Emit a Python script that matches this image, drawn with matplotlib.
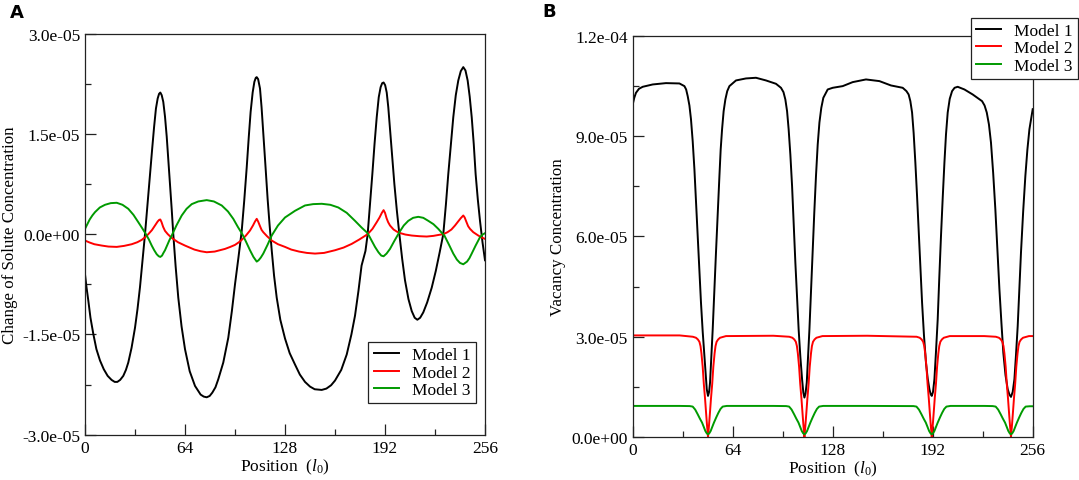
import numpy as np
import matplotlib
matplotlib.use("Agg")
import matplotlib.pyplot as plt
from matplotlib.ticker import FixedLocator, FuncFormatter

plt.rcParams['font.family'] = ['Liberation Serif', 'DejaVu Serif']
plt.rcParams['mathtext.fontset'] = 'custom'
plt.rcParams['mathtext.rm'] = 'Liberation Serif'
plt.rcParams['mathtext.it'] = 'Liberation Serif:italic'

SCALE = 1e-5

# ---- panel A : change of solute concentration (values in 1e-5) ----
a1_x = [0, 1, 2.1, 3.5, 5.3, 7.3, 9.6, 12, 14.5, 17, 19, 20.7, 22.5, 24.5, 26.2, 27.7, 29.8, 32,
        33.6, 35.2, 36.8, 38.4, 40, 41.6, 43, 44.2, 45.4, 46.5, 47.4, 48.2, 49.1, 50.1, 51.2,
        52.3, 53.3, 54.4, 55.5, 56.5, 58, 59.7, 61.8, 64, 67, 70.4, 74, 76, 77.9, 79.8, 81.5,
        83.5, 85.3, 88.5, 91.7, 94, 96, 98.2, 100.3, 101.9, 103.5, 104.8, 106, 107.3, 108.4,
        109.3, 109.9, 110.8, 112, 113, 114.1, 115.5, 116.9, 118.2, 119.5, 121, 122.7, 125, 128,
        131, 134.4, 137.5, 140.8, 144, 147, 151.5, 154.5, 157.5, 160, 164, 167.5, 170.5, 172.8,
        175, 177, 179.5, 180.9, 182.4, 183.9, 185.3, 186.7, 188, 189.2, 190.2, 191.1, 192.1,
        193.1, 194.1, 195.2, 196.6, 198, 199.6, 201.2, 203, 204.8, 207, 209.1, 211, 212.7,
        214.5, 216.5, 219, 221.9, 224.5, 227, 229.3, 231, 232.5, 234.2, 235.7, 237.3, 238.9,
        240.5, 242.1, 243.5, 244.9, 246.2, 247.5, 248.8, 250, 251.4, 252.8, 254.4, 256]
a1_y = [-0.60, -0.80, -0.99, -1.25, -1.49, -1.72, -1.89, -2.02, -2.12, -2.18, -2.21, -2.21,
        -2.18, -2.12, -2.03, -1.92, -1.70, -1.40, -1.12, -0.79, -0.40, 0.0, 0.45, 0.90, 1.28,
        1.60, 1.88, 2.03, 2.10, 2.12, 2.08, 1.98, 1.76, 1.46, 1.12, 0.75, 0.37, 0.0, -0.48,
        -0.95, -1.38, -1.72, -2.05, -2.27, -2.40, -2.43, -2.44, -2.42, -2.37, -2.29, -2.17,
        -1.92, -1.55, -1.15, -0.75, -0.35, 0.05, 0.50, 1.00, 1.45, 1.83, 2.12, 2.28, 2.34, 2.35,
        2.32, 2.18, 1.90, 1.52, 1.02, 0.52, 0.12, -0.24, -0.62, -0.95, -1.28, -1.56, -1.78,
        -1.95, -2.10, -2.21, -2.28, -2.32, -2.33, -2.31, -2.26, -2.19, -2.03, -1.80, -1.50,
        -1.22, -0.85, -0.47, -0.25, 0.0, 0.45, 0.90, 1.35, 1.75, 2.05, 2.20, 2.26, 2.27, 2.23,
        2.12, 1.90, 1.58, 1.17, 0.75, 0.35, 0.0, -0.37, -0.69, -0.97, -1.15, -1.25, -1.28,
        -1.25, -1.17, -1.02, -0.80, -0.55, -0.27, 0.0, 0.45, 0.90, 1.35, 1.75, 2.08, 2.30, 2.44,
        2.50, 2.45, 2.30, 2.06, 1.75, 1.35, 0.90, 0.52, 0.20, -0.12, -0.39]

a2_x = [0, 3, 6, 10.7, 15, 20.3, 25, 29.9, 33.5, 36.3, 38.5, 40.5, 42.8, 44.8, 46.5, 47.5, 48.2,
        49, 50, 51.2, 53, 55.5, 59.5, 64, 70, 74, 77.9, 83, 89.6, 93, 96, 98.5, 100.3, 103, 105.6,
        107.5, 108.8, 109.9, 110.8, 112, 113, 114.1, 116.5, 119.5, 123.5, 128, 132, 137, 142,
        147.2, 153, 160, 165.5, 170.7, 175.5, 180.9, 184, 186.7, 188.5, 190, 191.1, 192, 193,
        194, 195.2, 197.5, 199.5, 201.2, 205, 209.1, 214, 218.7, 223, 226.5, 229.3, 232, 234.5,
        236.8, 238.8, 240.5, 242.1, 243, 244, 245.2, 246.4, 248.5, 251.7, 254, 256]
a2_y = [-0.095, -0.125, -0.15, -0.17, -0.185, -0.19, -0.175, -0.15, -0.12, -0.085, -0.045, 0.0,
        0.06, 0.13, 0.19, 0.215, 0.22, 0.18, 0.11, 0.05, 0.0, -0.055, -0.12, -0.17, -0.23,
        -0.255, -0.27, -0.26, -0.22, -0.19, -0.16, -0.12, -0.085, -0.02, 0.055, 0.13, 0.19,
        0.23, 0.19, 0.12, 0.065, 0.03, -0.03, -0.095, -0.15, -0.19, -0.23, -0.26, -0.28, -0.29,
        -0.28, -0.24, -0.20, -0.145, -0.08, 0.0, 0.08, 0.18, 0.25, 0.32, 0.36, 0.32, 0.24, 0.18,
        0.13, 0.07, 0.04, 0.02, -0.005, -0.02, -0.03, -0.035, -0.025, -0.01, 0.0, 0.03, 0.07,
        0.13, 0.19, 0.24, 0.28, 0.25, 0.19, 0.12, 0.08, 0.03, -0.02, -0.05, -0.07]

a3_x = [0, 1.5, 3, 4.7, 6.4, 9.5, 12.8, 16.5, 20.3, 24, 27.7, 31, 34.1, 36.6, 39, 40.9, 42.7,
        44.3, 45.9, 47.2, 48.2, 49.3, 50.2, 51.2, 52.7, 54, 55.5, 58.5, 61.9, 65, 68.3, 72.5,
        77.9, 82.5, 87.5, 91.5, 94.9, 97.8, 100.7, 103.2, 105.6, 107.8, 109.9, 111.1, 112.5,
        114.1, 116.8, 119.5, 123.5, 128, 134.4, 140.8, 146, 151.5, 157, 162.1, 167.5, 172.8, 177,
        180.9, 183.3, 185.6, 187.8, 189.6, 191.1, 193, 195.2, 198, 201.2, 204, 206.9, 210, 213.3,
        216.5, 219.7, 223, 226.1, 228, 230, 232.8, 235.7, 238, 240, 242.1, 244.5, 246, 247.5,
        250, 252.8, 254.5, 256]
a3_y = [0.08, 0.15, 0.22, 0.28, 0.33, 0.40, 0.44, 0.465, 0.47, 0.44, 0.38, 0.29, 0.18, 0.09, 0.0,
        -0.08, -0.17, -0.24, -0.30, -0.33, -0.34, -0.32, -0.28, -0.24, -0.16, -0.09, -0.02, 0.13,
        0.28, 0.38, 0.45, 0.49, 0.51, 0.49, 0.43, 0.34, 0.23, 0.11, 0.0, -0.12, -0.24, -0.34,
        -0.41, -0.39, -0.35, -0.29, -0.16, -0.02, 0.13, 0.25, 0.35, 0.43, 0.45, 0.455, 0.44,
        0.40, 0.32, 0.20, 0.10, 0.015, -0.09, -0.19, -0.27, -0.32, -0.33, -0.29, -0.22, -0.10,
        0.03, 0.13, 0.20, 0.245, 0.26, 0.245, 0.20, 0.15, 0.08, 0.03, -0.02, -0.15, -0.29, -0.38,
        -0.43, -0.45, -0.41, -0.36, -0.29, -0.17, -0.045, -0.005, 0.015]

# ---- panel B : vacancy concentration (values in 1e-5) ----
b1_x = [0, 1, 2.1, 4, 6.4, 12.8, 21.3, 29.9, 33.1, 34.2, 35.2, 36.3, 37.3, 38.4, 39.5, 40.5,
        41.6, 42.6, 43.7, 44.8, 45.9, 46.7, 47.4, 48.2, 48.9, 49.5, 50.3, 51.2, 52.2, 53.3, 54.4,
        55.5, 56.3, 57.2, 58.2, 59.3, 60.5, 61.9, 66.1, 72.5, 78.9, 85.3, 91.7, 94.9, 96.5, 97.7,
        98.8, 99.8, 100.9, 102, 103, 104.1, 105.2, 106.2, 107.3, 108.4, 109.2, 109.9, 110.6,
        111.4, 112.2, 113.1, 114.1, 115.2, 116.2, 117.3, 118.4, 119.5, 120.7, 122, 124.8, 128,
        134.4, 140.8, 149.3, 157.9, 165.3, 172.8, 175.2, 176.6, 177.7, 178.8, 179.8, 180.9, 182,
        183, 184.1, 185.2, 186.4, 187.7, 188.8, 189.9, 190.7, 191.4, 192.2, 193.1, 194.1, 195.2,
        196.2, 197.3, 198.4, 199.5, 200.5, 201.6, 202.9, 204.4, 206, 208, 212.3, 217.6, 223.6,
        225.2, 226.6, 228, 229.3, 230.7, 232.1, 233.4, 234.7, 236, 237.2, 238.6, 240, 241.1,
        242.1, 243.2, 244.3, 245.3, 246.4, 247.4, 248.5, 249.9, 251.3, 252.6, 253.9, 256]
b1_y = [9.95, 10.15, 10.30, 10.42, 10.48, 10.55, 10.59, 10.58, 10.50, 10.40, 10.20, 9.92, 9.51,
        8.85, 8.01, 7.05, 6.01, 5.00, 4.02, 3.15, 2.42, 1.85, 1.43, 1.23, 1.35, 1.63, 2.35, 3.22,
        4.35, 5.52, 6.70, 7.81, 8.60, 9.21, 9.75, 10.10, 10.35, 10.50, 10.67, 10.73, 10.75,
        10.67, 10.57, 10.45, 10.32, 10.10, 9.75, 9.21, 8.45, 7.51, 6.40, 5.22, 4.15, 3.22, 2.40,
        1.73, 1.33, 1.18, 1.30, 1.63, 2.35, 3.22, 4.35, 5.52, 6.70, 7.81, 8.75, 9.41, 9.85,
        10.15, 10.40, 10.45, 10.50, 10.62, 10.70, 10.65, 10.52, 10.45, 10.35, 10.25, 10.05, 9.71,
        9.10, 8.21, 7.20, 6.21, 5.10, 4.02, 3.05, 2.22, 1.75, 1.43, 1.28, 1.23, 1.35, 1.73, 2.55,
        3.52, 4.75, 6.01, 7.15, 8.21, 9.05, 9.71, 10.12, 10.35, 10.45, 10.48, 10.40, 10.25,
        10.05, 9.92, 9.71, 9.35, 8.81, 7.90, 6.81, 5.60, 4.42, 3.40, 2.52, 1.85, 1.43, 1.27,
        1.20, 1.35, 1.73, 2.45, 3.32, 4.40, 5.52, 6.75, 7.81, 8.60, 9.21, 9.81]

b2_x = [0, 30, 38.5, 40.5, 41.7, 42.7, 43.4, 44.0, 44.8, 45.5, 46.3, 47.0, 47.6, 48.2, 48.8,
        49.4, 50.1, 50.9, 51.6, 52.4, 53.0, 53.7, 54.7, 55.9, 59.7, 90, 100.2, 102.2, 103.4,
        104.4, 105.1, 105.7, 106.5, 107.2, 108.0, 108.7, 109.3, 109.9, 110.5, 111.1, 111.8,
        112.6, 113.3, 114.1, 114.7, 115.4, 116.4, 117.6, 121.4, 150, 181.7, 183.7, 184.9, 185.9,
        186.6, 187.2, 188.0, 188.7, 189.5, 190.2, 190.8, 191.4, 192.0, 192.6, 193.3, 194.1,
        194.8, 195.6, 196.2, 196.9, 197.9, 199.1, 202.9, 225, 232.4, 234.4, 235.6, 236.6, 237.3,
        237.9, 238.7, 239.4, 240.2, 240.9, 241.5, 242.1, 242.7, 243.3, 244.0, 244.8, 245.5,
        246.3, 246.9, 247.6, 248.6, 249.8, 253.6, 256]
b2_y = [3.04, 3.04, 3.00, 2.97, 2.92, 2.85, 2.72, 2.50, 2.10, 1.60, 1.15, 0.70, 0.33, 0.0, 0.33,
        0.70, 1.15, 1.60, 2.10, 2.50, 2.72, 2.85, 2.92, 2.97, 3.02, 3.03, 3.00, 2.97, 2.92, 2.85,
        2.72, 2.50, 2.10, 1.60, 1.15, 0.70, 0.33, 0.0, 0.33, 0.70, 1.15, 1.60, 2.10, 2.50, 2.72,
        2.85, 2.92, 2.97, 3.02, 3.03, 3.00, 2.97, 2.92, 2.85, 2.72, 2.50, 2.10, 1.60, 1.15, 0.70,
        0.33, 0.0, 0.33, 0.70, 1.15, 1.60, 2.10, 2.50, 2.72, 2.85, 2.92, 2.97, 3.02, 3.02, 3.00,
        2.97, 2.92, 2.85, 2.72, 2.50, 2.10, 1.60, 1.15, 0.70, 0.33, 0.0, 0.33, 0.70, 1.15, 1.60,
        2.10, 2.50, 2.72, 2.85, 2.92, 2.97, 3.02, 3.02]

b3_x = [0, 30, 36.5, 38.4, 40.0, 41.6, 43.0, 44.4, 45.5, 46.5, 47.4, 48.2, 49.0, 49.9, 50.9,
        52.0, 53.4, 54.8, 56.2, 57.6, 60.2, 90, 98.2, 100.1, 101.7, 103.3, 104.7, 106.1, 107.2,
        108.2, 109.1, 109.9, 110.7, 111.6, 112.6, 113.7, 115.1, 116.5, 117.9, 119.3, 121.9, 150,
        179.7, 181.6, 183.2, 184.8, 186.2, 187.6, 188.7, 189.7, 190.6, 191.4, 192.2, 193.1, 194.1,
        195.2, 196.6, 198.0, 199.4, 200.8, 203.4, 225, 230.4, 232.3, 233.9, 235.5, 236.9, 238.3,
        239.4, 240.4, 241.3, 242.1, 242.9, 243.8, 244.8, 245.9, 247.3, 248.7, 250.1, 251.5,
        254.1, 256]
b3_y = [0.93, 0.93, 0.925, 0.91, 0.82, 0.68, 0.55, 0.43, 0.30, 0.18, 0.11, 0.08, 0.11, 0.18,
        0.30, 0.43, 0.58, 0.72, 0.84, 0.91, 0.93, 0.93, 0.925, 0.91, 0.82, 0.68, 0.55, 0.43, 0.30,
        0.18, 0.11, 0.08, 0.11, 0.18, 0.30, 0.43, 0.58, 0.72, 0.84, 0.91, 0.93, 0.93, 0.925,
        0.91, 0.82, 0.68, 0.55, 0.43, 0.30, 0.18, 0.11, 0.08, 0.11, 0.18, 0.30, 0.43, 0.58, 0.72,
        0.84, 0.91, 0.93, 0.93, 0.925, 0.91, 0.82, 0.68, 0.55, 0.43, 0.30, 0.18, 0.11, 0.08,
        0.11, 0.18, 0.30, 0.43, 0.58, 0.72, 0.84, 0.91, 0.92, 0.92]

x_ticks = [0, 64, 128, 192, 256]
x_minor = [32, 96, 160, 224]
a_yticks = [-3.0e-5, -1.5e-5, 0.0, 1.5e-5, 3.0e-5]
a_yminor = [-2.25e-5, -0.75e-5, 0.75e-5, 2.25e-5]
b_yticks = [0.0, 3.0e-5, 6.0e-5, 9.0e-5, 1.2e-4]
b_yminor = [1.5e-5, 4.5e-5, 7.5e-5, 10.5e-5]

labels = ['Model 1', 'Model 2', 'Model 3']
colors = ['black', '#ff0000', '#009a00']

W, H = 1079, 481
fig = plt.figure(figsize=(W / 100, H / 100), dpi=100)
axA = fig.add_axes([85 / W, 1 - 435.7 / H, 400 / W, 401 / H])
axB = fig.add_axes([632.7 / W, 1 - 438 / H, 400 / W, 401 / H])


def sci(v, pos):
    return '%.1e' % v


def style(ax, yt, ym, ylab):
    ax.set_xlim(0, 256)
    ax.xaxis.set_major_locator(FixedLocator(x_ticks))
    ax.xaxis.set_minor_locator(FixedLocator(x_minor))
    ax.yaxis.set_major_locator(FixedLocator(yt))
    ax.yaxis.set_minor_locator(FixedLocator(ym))
    ax.yaxis.set_major_formatter(FuncFormatter(sci))
    ax.tick_params(which='both', direction='in', top=False, right=False,
                   labelsize=12.5, width=0.9, color='#222222')
    ax.tick_params(which='major', length=8, pad=3.5)
    ax.tick_params(which='minor', length=4.3)
    for s in ax.spines.values():
        s.set_linewidth(0.9)
        s.set_color('#222222')
    ax.set_xlabel(r'Position  $(l_0)$', fontsize=12.5, labelpad=1)
    ax.set_ylabel(ylab, fontsize=12.2)
    ax.yaxis.set_label_coords(-0.168, 0.5)


series_a = [(a1_x, a1_y), (a2_x, a2_y), (a3_x, a3_y)]
for (xs, ys), c, lab in zip(series_a, colors, labels):
    axA.plot(xs, np.array(ys) * SCALE, color=c, lw=1.4, label=lab)
axA.set_ylim(-3.0e-5, 3.0e-5)
style(axA, a_yticks, a_yminor, 'Change of Solute Concentration')

series_b = [(b1_x, b1_y), (b2_x, b2_y), (b3_x, b3_y)]
for (xs, ys), c, lab in zip(series_b, colors, labels):
    axB.plot(xs, np.array(ys) * SCALE, color=c, lw=1.4, label=lab)
axB.set_ylim(0, 1.2e-4)
style(axB, b_yticks, b_yminor, 'Vacancy Concentration')

leg_kw = dict(fontsize=12.5, frameon=True, fancybox=False, edgecolor='#222222',
              framealpha=1, handlelength=1.45, handletextpad=0.75,
              labelspacing=0.08, borderpad=0.3, borderaxespad=0)
lgA = axA.legend(loc='center', bbox_to_anchor=(422 / W, 1 - 373.5 / H),
                 bbox_transform=fig.transFigure, **leg_kw)
lgB = axB.legend(loc='center', bbox_to_anchor=(1024.5 / W, 1 - 49.4 / H),
                 bbox_transform=fig.transFigure, **leg_kw)
for lg in (lgA, lgB):
    lg.get_frame().set_linewidth(0.9)

fig.text(10 / W, 1 - 4 / H, 'A', fontsize=13, fontweight='bold',
         family='DejaVu Sans', va='top', ha='left')
fig.text(542 / W, 1 - 3 / H, 'B', fontsize=13, fontweight='bold',
         family='DejaVu Sans', va='top', ha='left')

fig.savefig('out.png', dpi=100)
